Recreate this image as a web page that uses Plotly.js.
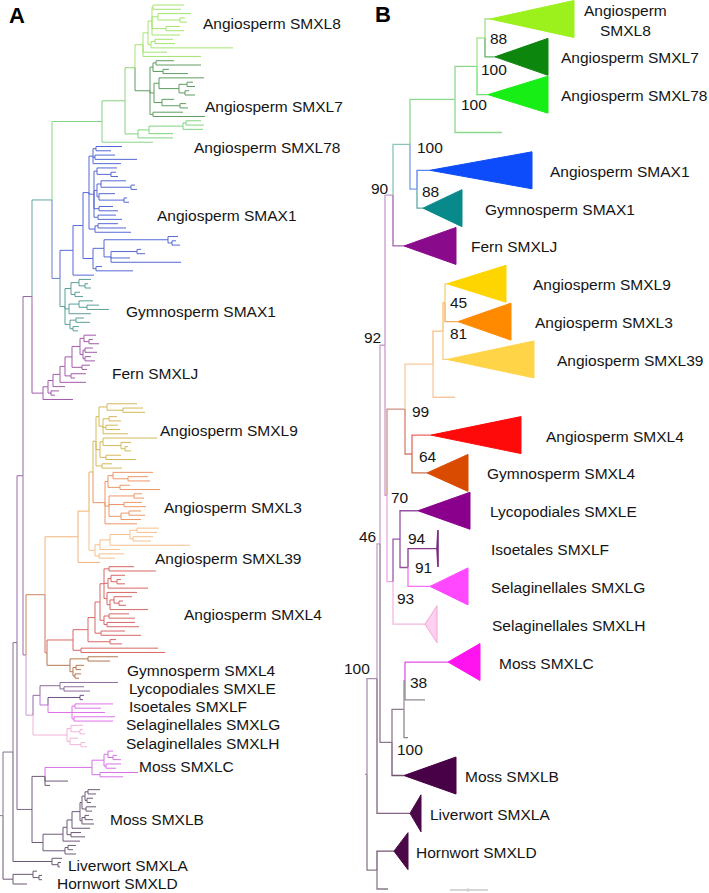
<!DOCTYPE html>
<html><head><meta charset="utf-8">
<script src="https://cdn.plot.ly/plotly-3.0.1.min.js"></script>
<style>html,body{margin:0;padding:0;background:#fff}#chart{width:709px;height:893px}</style>
</head><body><div id="chart"></div>
<script>
// ================= DATA =================
// Panel A: full tree. Each key's Newick (branch lengths only); {KEY} inserts another piece.
const treeKeysA = ['ROOT','P0','P1','P2','P3','T0','G1','G2','G3','T1','P4','O0','O1','O2','O3','R1','L0','L1','L2','M0','M1',
  'SMXL8','SMXL7','SMXL78','SMAX1','GSMAX1','FERN','SMXL9','SMXL3','SMXL39','SMXL4','GSMXL4','LYCOE','ISOF','SELG','SELH','MOSSC','MOSSB','LIVER','HORN'];
const treeNewickA = [
  '({P0}:10,{HORN}:10)',
  '({P1}:4,{LIVER}:39)',
  '({P2}:6,{M0}:15)',
  '({P3}:9,{P4}:3)',
  '({T0}:20,{FERN}:11)',
  '({G1}:50,{T1}:8)',
  '({G2}:23,:51)',
  '({G3}:10,{SMXL78}:13)',
  '({SMXL8}:8,{SMXL7}:15)',
  '({SMAX1}:13,{GSMAX1}:5)',
  '({O0}:19,{L0}:7)',
  '({O1}:33,{R1}:2)',
  '({O2}:11,:22)',
  '({O3}:4,{SMXL39}:6)',
  '({SMXL9}:3,{SMXL3}:12)',
  '({SMXL4}:26,{GSMXL4}:23)',
  '({L1}:7,{SELH}:34)',
  '({LYCOE}:20,{L2}:8)',
  '({ISOF}:32,{SELG}:24)',
  '({M1}:13,{MOSSB}:11)',
  '({MOSSC}:47,:23,:5)',
  '((((:31,:28):1,(:33,(:5,:7):22):6,(:14,:18):14,:28):4,((:18,:20):4,:82):3):5,:24,:58)',
  '(((:18,:45):3,(:6,:25):10):3,((:45,((:6,:8):8,(:4,:10):6):20):5,(:12,(:6,:8):18):8):4,(:30,:52):3)',
  '((((:15,:18):3,:20):34,:24):11,:35)',
  '(((((:26,:15):3,(:20,:42):2,:28):4,((:20,(:5,:7):14):3,((:25,(:4,:6):30):4,(:16,(:3,:5):25):2):3,(:14,:19):5,(:18,:24):4):5,((:20,:28):3,:36):6):6,(((:10,(:4,:8):4):64,((:4,:8):26,:19,:70):7):11,(:6,:37):3):10):10,:21)',
  '(((:12,(:3,:6):6):8,(:5,:8):4):6,((:14,(:12,:22):8):10,:22):4,((:8,:14):6,(:6,:5):3):5)',
  '((((((((:12,(:4,:10):5):4,((:8,:12):2,(:6,:10):2):3):8,(:8,:5):10):7,(:15,:4):6):5,:26):7,:12):5,(:8,:4):3):5,:30)',
  '(((:30,(:20,:22):16):8,((:8,:12):6,(:12,:14):3,:25):4):3,((:54,(:10,(:3,:6):4):18):3,(:15,:30):6):4,(:10,:20):6)',
  '(((:40,(:20,:22):15):5,(:10,:40):12):3,((:8,:10):25,(:18,:22):15,((:12,:16):8,:20):12):4,:32)',
  '(((((:22,:20):7,(:20,:18):3):20,:80):10,:20):5,(:25,:16):4)',
  '((((((:25,:47):5,((:14,(:4,:8):6):3,:40):4,(:30,((:18,(:4,:7):5):4,:38):3):3):4,((:20,:26):5,(:28,:32):3):4):5,(:24,:40):6):7,(:6,:12):22):15,(:77,:84):8)',
  '((:30,:22):18,((:8,:5):3,(:6,:4):2):3)',
  '(:58,(:20,:26):4)',
  '(:4,:3)',
  '((:38,:26):3,:33,(:41,:39):2)',
  '((:12,(:3,:5):9):4,(:8,(:4,:6):11):3)',
  '(((:5,(:4,:8):5):4,(:15,:10):2):12,(:38,:23):8)',
  '((((((((:12,:8):3,(:6,:4):2):3,(:10,:6):4):2,((:4,:8):3,:12):2):8,:18):5,(:10,:14):4):4,:17):20,((:8,:5):3,:11):22)',
  '(:10,(:3,:2):6)',
  '((:4,(:3,:3):6):20,:14)'
];
const cladeKeysA = ['SMXL8','SMXL7','SMXL78','SMAX1','GSMAX1','FERN','SMXL9','SMXL3','SMXL39','SMXL4','GSMXL4','LYCOE','ISOF','SELG','SELH','MOSSC','MOSSB','LIVER','HORN'];
const cladeNamesA = ['Angiosperm SMXL8','Angiosperm SMXL7','Angiosperm SMXL78','Angiosperm SMAX1','Gymnosperm SMAX1','Fern SMXLJ',
  'Angiosperm SMXL9','Angiosperm SMXL3','Angiosperm SMXL39','Angiosperm SMXL4','Gymnosperm SMXL4','Lycopodiales SMXLE','Isoetales SMXLF',
  'Selaginellales SMXLG','Selaginellales SMXLH','Moss SMXLC','Moss SMXLB','Liverwort SMXLA','Hornwort SMXLD'];

// Panel B: collapsed tree
const treeKeysB = ['ROOT','Na','Nb','Nc','Nd','Nf','Gn','n477','n485','Sx','Ne','Sn','grp','N81','N45','S4','N93','N94','N91','Moss','X','N38','Hn'];
const treeNewickB = [
  '({Na}:10,{Hn}:10)',
  '({Nb}:3,{LIVER}:33)',
  '({Nc}:5,{Moss}:12)',
  '({Nd}:8,{Ne}:2)',
  '({Nf}:17,{FERN}:11)',
  '({Gn}:45,{Sx}:7)',
  '({n477}:22,{gl}:47)',
  '({n485}:8,{SMXL78}:11)',
  '({SMXL8}:5,{SMXL7}:10)',
  '({SMAX1}:13,{GSMAX1}:6)',
  '({Sn}:18,{N93}:6)',
  '({grp}:28,{S4}:7)',
  '({N81}:10,{ol}:22)',
  '({N45}:2,{SMXL39}:4)',
  '({SMXL9}:2,{SMXL3}:13)',
  '({SMXL4}:19,{GSMXL4}:15)',
  '({N94}:7,{SELH}:32)',
  '({LYCOE}:18,{N91}:8)',
  '({ISOF}:29,{SELG}:22)',
  '({X}:12,{MOSSB}:12)',
  '({N38}:1,{ml2}:4)',
  '({MOSSC}:43,{ml1}:20)',
  '({HORN}:17,{hl}:11)'
];
const cladeKeysB = ['SMXL8','SMXL7','SMXL78','SMAX1','GSMAX1','FERN','SMXL9','SMXL3','SMXL39','SMXL4','GSMXL4','LYCOE','ISOF','SELG','SELH','MOSSC','MOSSB','LIVER','HORN'];
const cladeNamesB = ['Angiosperm<br>SMXL8','Angiosperm SMXL7','Angiosperm SMXL78','Angiosperm SMAX1','Gymnosperm SMAX1','Fern SMXLJ',
  'Angiosperm SMXL9','Angiosperm SMXL3','Angiosperm SMXL39','Angiosperm SMXL4','Gymnosperm SMXL4','Lycopodiales SMXLE','Isoetales SMXLF',
  'Selaginellales SMXLG','Selaginellales SMXLH','Moss SMXLC','Moss SMXLB','Liverwort SMXLA','Hornwort SMXLD'];
const cladeDepthB = [84,53,60,102,39,52,59,53,87,90,41,52,1,38,12,32,52,11,14];
const bootKeysB = ['Na','Nb','Nc','Nd','Nf','Gn','n477','n485','Sx','Ne','Sn','N81','N45','S4','N93','N94','N91','Moss','N38'];
const bootValuesB = [100,46,92,90,100,100,100,88,88,70,99,81,45,64,93,94,91,100,38];

// ================= STYLE / LAYOUT =================
const FONT = 'Liberation Sans, Arial, Helvetica, sans-serif';
const colorA = {
  ROOT:'#8c7a92', P0:'#857090', P1:'#8c6c98', P2:'#9a68a8', P3:'#8d6aa0', T0:'#66a5a0', G1:'#86d486', G2:'#84cf84', G3:'#90d47c',
  SMXL8:'#a4e46e', SMXL7:'#5f9c62', SMXL78:'#80d480', T1:'#6680cc', SMAX1:'#5569d6', GSMAX1:'#5a9f98', FERN:'#a35aaa',
  P4:'#9a6aa6', O0:'#c8865a', O1:'#f2b47c', O2:'#f0b070', O3:'#e2b060', SMXL9:'#d4b95c', SMXL3:'#ee9666', SMXL39:'#f5c08c',
  R1:'#c47a5c', SMXL4:'#da6666', GSMXL4:'#b6774e', L0:'#c89ad0', L1:'#8e6a9e', L2:'#c070d4', LYCOE:'#8c6c9e', ISOF:'#6e4f82',
  SELG:'#e070ea', SELH:'#f4b2d8', M0:'#7a6684', M1:'#6e5a78', MOSSC:'#d572e4', MOSSB:'#6e5a78', LIVER:'#6c5872', HORN:'#6c5872'
};
const labelPosA = [[201,23],[203,106],[192,147],[155,215],[124,311],[110,373],[158,430],[162,507],[153,558],[182,614],
  [125,670],[127,688],[127,706],[124,724],[124,743],[137,766],[108,819],[66,865],[55,883]];
const triColorB = {SMXL8:'#9cf01c', SMXL7:'#0c860c', SMXL78:'#16ee16', SMAX1:'#0c4cfa', GSMAX1:'#088a8a', FERN:'#8a0a8c',
  SMXL9:'#ffd500', SMXL3:'#ff8a00', SMXL39:'#ffd447', SMXL4:'#fe0a0a', GSMXL4:'#d94c00', LYCOE:'#8a008c', ISOF:'#7a2a7e',
  SELG:'#ff48ff', SELH:'#ffd0f0', MOSSC:'#ff14f0', MOSSB:'#480046', LIVER:'#4a0848', HORN:'#4a0848'};
const triLineB = {SELH:'#f2a6dc'};
const edgeColorB = {ROOT:'#9a8a9c', Na:'#a88fb0', Nb:'#c49cc8', Nc:'#c8a0cc', Nd:'#c89ccc', Nf:'#8cc4bc', Gn:'#8ed88e', n477:'#8ed88e',
  n485:'#9ee48a', gl:'#8ed88e', Sx:'#7a9ee2', Ne:'#cc9cc8', Sn:'#cf9080', grp:'#f6c8a0', N81:'#f5c184', N45:'#f3c270', ol:'#f6c8a0',
  S4:'#d4806c', N93:'#e8a8e0', N94:'#9a5aaa', N91:'#96509e', Moss:'#8c7a8e', X:'#8c7a8e', N38:'#a887a8', ml1:'#8a8a8a', ml2:'#8a8a8a',
  Hn:'#8a7a8c', hl:'#8a7a8c', SMXL8:'#a4e088', SMXL7:'#62b262', SMXL78:'#72e072', SMAX1:'#5f84ee', GSMAX1:'#5ea8a8', FERN:'#a262b0',
  SMXL9:'#f2d070', SMXL3:'#f6aa56', SMXL39:'#f5d084', SMXL4:'#ef6464', GSMXL4:'#d27252', LYCOE:'#9450a2', ISOF:'#8a3a8e',
  SELG:'#f272f2', SELH:'#f4b8e0', MOSSC:'#e452e4', MOSSB:'#6e526e', LIVER:'#846284', HORN:'#745474'};
const labelXB = [625,559,559,548,483,469,531,533,555,544,485,488,489,489,490,497,463,428,414];
const bootPosB = {Na:[-5,-10,'right'], Nb:[-2,-7,'right'], Nc:[-2,-8,'right'], Nd:[-2,-7,'right'], Nf:[5,3,'left'], Gn:[4,5,'left'],
  n477:[2,3,'left'], n485:[3,1,'left'], Sx:[3,2,'left'], Ne:[2,2,'left'], Sn:[5,2,'left'], N81:[5,2,'left'], N45:[3,0,'left'],
  S4:[5,2,'left'], N93:[2,17,'left'], N94:[6,-1,'left'], N91:[5,0,'left'], Moss:[3,7,'left'], N38:[3,2,'left']};
const geomA = {x0:3, yTop:5, yBot:884, stub:3, lw:1.0};
const geomB = {x0:367, yTop:19, yBot:889, stub:2, lw:1.3, halfH:18.5};

// ================= BUILD =================
function expand(key, defs){ const s = defs[key] || ''; return s.replace(/\{(\w+)\}/g, (m,k)=>expand(k,defs)) + key; }
function parseNewick(s){
  s = s.replace(/\s+/g,''); let i=0;
  function node(){
    const n={children:[],label:'',len:0};
    if(s[i]==='('){ i++; n.children.push(node()); while(s[i]===','){ i++; n.children.push(node()); }
      if(s[i]!==')') throw new Error('bad newick at '+i); i++; }
    const m=/^[A-Za-z0-9_]*/.exec(s.slice(i)); n.label=m[0]; i+=m[0].length;
    if(s[i]===':'){ i++; const m2=/^[0-9.]+/.exec(s.slice(i)); n.len=parseFloat(m2[0]); i+=m2[0].length; }
    return n;
  }
  return node();
}
function place(root, x0, yTop, yBot){
  let nLeaves=0; (function c(n){ if(!n.children.length) nLeaves++; else n.children.forEach(c); })(root);
  const step=(yBot-yTop)/(nLeaves-1); let k=0;
  (function rec(n,px){ n.x=px; if(!n.children.length){ n.y=yTop+step*(k++); }
    else { n.children.forEach(ch=>rec(ch, n.x+ch.len)); n.y=(n.children[0].y+n.children[n.children.length-1].y)/2; } })(root, x0);
  return step;
}
function collect(root, palette, fallback, stub){
  const groups={}, byLabel={};
  function add(c, xs, ys){ const g=(groups[c]=groups[c]||{x:[],y:[]}); g.x.push(...xs,null); g.y.push(...ys,null); }
  (function rec(n,parent,inh){
    n.color = palette[n.label] || inh; if(n.label) byLabel[n.label]=n;
    if(parent) add(n.color,[parent.x,parent.x,n.x],[parent.y,n.y,n.y]);
    n.children.forEach(c=>rec(c,n,n.color));
  })(root,null,fallback);
  if(stub) add(root.color,[root.x-stub,root.x],[root.y,root.y]);
  return {groups, byLabel};
}
function defsOf(keys, trees){ const d={}; keys.forEach((k,i)=>d[k]=trees[i]); return d; }

const traces=[], annotations=[];
const txtFont = {family:FONT, size:15.5, color:'#151515'};

// Panel A
const treeA = parseNewick(expand('ROOT', defsOf(treeKeysA, treeNewickA)));
place(treeA, geomA.x0, geomA.yTop, geomA.yBot);
const resA = collect(treeA, colorA, '#8c7a92', geomA.stub);
Object.keys(resA.groups).forEach(c=>traces.push({type:'scatter',mode:'lines',x:resA.groups[c].x,y:resA.groups[c].y,
  line:{color:c,width:geomA.lw},hoverinfo:'skip',connectgaps:false}));
cladeKeysA.forEach((k,i)=>annotations.push({x:labelPosA[i][0],y:labelPosA[i][1],xref:'x',yref:'y',text:cladeNamesA[i],
  showarrow:false,xanchor:'left',yanchor:'middle',font:txtFont}));

// Panel B
const treeB = parseNewick(expand('ROOT', defsOf(treeKeysB, treeNewickB)));
const stepB = place(treeB, geomB.x0, geomB.yTop, geomB.yBot);
const resB = collect(treeB, edgeColorB, '#9a8a9c', geomB.stub);
Object.keys(resB.groups).forEach(c=>traces.push({type:'scatter',mode:'lines',x:resB.groups[c].x,y:resB.groups[c].y,
  line:{color:c,width:geomB.lw},hoverinfo:'skip',connectgaps:false}));
cladeKeysB.forEach((k,i)=>{
  const n=resB.byLabel[k], d=cladeDepthB[i], h=geomB.halfH;
  traces.push({type:'scatter',mode:'lines',x:[n.x,n.x+d,n.x+d,n.x],y:[n.y,n.y-h,n.y+h,n.y],fill:'toself',
    fillcolor:triColorB[k],line:{color:triLineB[k]||triColorB[k],width:k==='ISOF'?1.6:1},hoverinfo:'skip'});
  const two = cladeNamesB[i].indexOf('<br>')>=0;
  annotations.push({x:labelXB[i],y:n.y+1,xref:'x',yref:'y',text:cladeNamesB[i],showarrow:false,
    xanchor:two?'center':'left',yanchor:'middle',align:two?'center':'left',font:txtFont});
});
bootKeysB.forEach((k,i)=>{
  const n=resB.byLabel[k], p=bootPosB[k];
  annotations.push({x:n.x+p[0],y:n.y+p[1],xref:'x',yref:'y',text:String(bootValuesB[i]),showarrow:false,
    xanchor:p[2],yanchor:'middle',font:{family:FONT,size:15.5,color:'#151515'}});
});

// Panel letters
annotations.push({x:7,y:15,xref:'x',yref:'y',text:'<b>A</b>',showarrow:false,xanchor:'left',yanchor:'middle',font:{family:FONT,size:22,color:'#000'}});
annotations.push({x:373,y:14,xref:'x',yref:'y',text:'<b>B</b>',showarrow:false,xanchor:'left',yanchor:'middle',font:{family:FONT,size:22,color:'#000'}});

const layout = {
  width:709, height:893, margin:{l:0,r:0,t:0,b:0}, showlegend:false,
  paper_bgcolor:'#fff', plot_bgcolor:'#fff',
  xaxis:{range:[0,709],visible:false,fixedrange:true},
  yaxis:{range:[893,0],visible:false,fixedrange:true},
  annotations:annotations,
  shapes:[
    {type:'line',xref:'x',yref:'y',x0:450,x1:488,y0:890,y1:890,line:{color:'#c8c8c8',width:1.5}},
    {type:'line',xref:'x',yref:'y',x0:468,x1:468,y0:888,y1:892,line:{color:'#c8c8c8',width:1}}
  ]
};
Plotly.newPlot('chart', traces, layout, {staticPlot:true, displayModeBar:false});
</script>
</body></html>
